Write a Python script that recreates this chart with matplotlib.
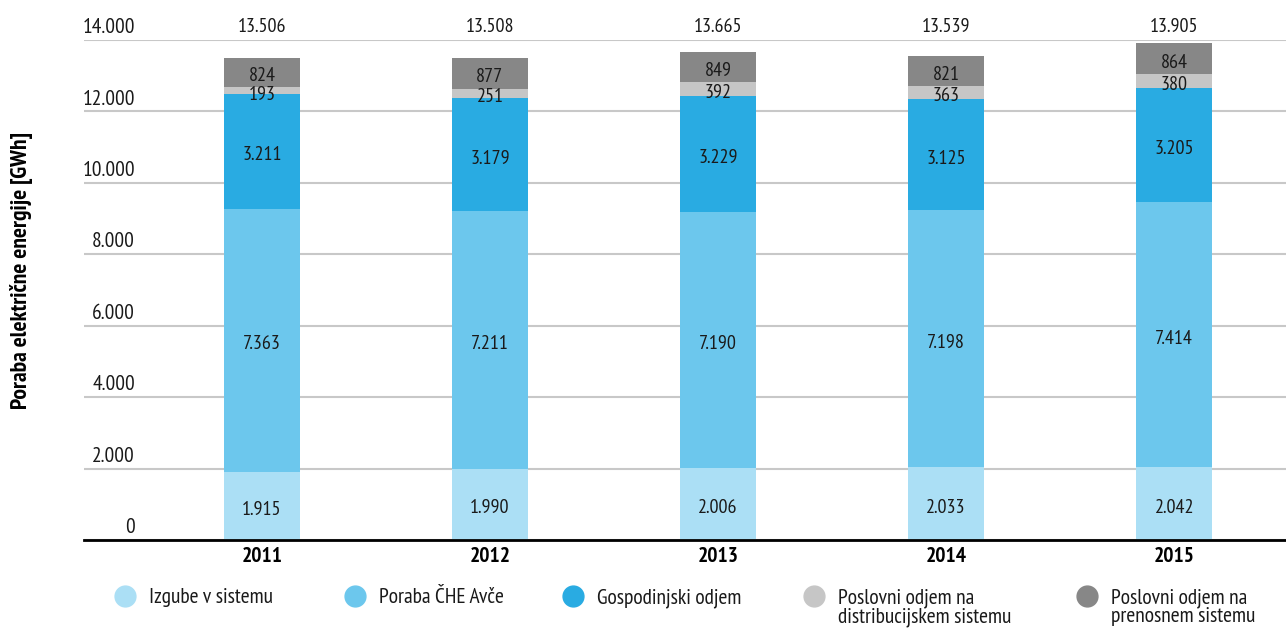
import matplotlib
matplotlib.use('Agg')
import matplotlib.pyplot as plt
import matplotlib.transforms as mtransforms
from matplotlib.lines import Line2D
import numpy as np

plt.rcParams['font.family'] = ['PT Sans Narrow', 'DejaVu Sans']

years = ['2011', '2012', '2013', '2014', '2015']
izgube = [1915, 1990, 2006, 2033, 2042]
poraba_che = [7363, 7211, 7190, 7198, 7414]
gospodinjski = [3211, 3179, 3229, 3125, 3205]
poslovni_dist = [193, 251, 392, 363, 380]
poslovni_pren = [824, 877, 849, 821, 864]
totals = [13506, 13508, 13665, 13539, 13905]

series = [izgube, poraba_che, gospodinjski, poslovni_dist, poslovni_pren]
names = ['Izgube v sistemu', 'Poraba ČHE Avče', 'Gospodinjski odjem',
         'Poslovni odjem na\ndistribucijskem sistemu', 'Poslovni odjem na\nprenosnem sistemu']
colors = ['#abdff5', '#6cc7ed', '#29abe2', '#c6c6c6', '#878787']
yticks = [0, 2000, 4000, 6000, 8000, 10000, 12000, 14000]


def fmt(v):
    # slovenian thousands separator
    return '{:,}'.format(v).replace(',', '.')


fig = plt.figure(figsize=(12.86, 6.28), dpi=100)
ax = fig.add_axes([84 / 1286, 88 / 628, 1202 / 1286, 500 / 628])

# segment labels sit a few pixels below the middle of their segment
lab_trans = ax.transData + mtransforms.ScaledTranslation(0, -4 / 100, fig.dpi_scale_trans)

x = np.arange(len(years))
bottom = np.zeros(len(years))
for vals, col in zip(series, colors):
    ax.bar(x, vals, 0.335, bottom=bottom, color=col, zorder=2)
    for xi, b, v in zip(x, bottom, vals):
        ax.text(xi, b + v / 2, fmt(v), ha='center', va='center', fontsize=14.5, color='#1a1a1a',
                zorder=3, transform=lab_trans)
    bottom += np.array(vals)

for xi, t in zip(x, totals):
    ax.text(xi, 14370, fmt(t), ha='center', va='center', fontsize=14.5, color='#1a1a1a', clip_on=False)

ax.set_xlim(-0.78, 4.49)
ax.set_ylim(0, 14000)
ax.set_yticks(yticks)
ax.set_yticklabels([])
ax.tick_params(axis='y', length=0)
for v in yticks:
    ax.axhline(v, color='#c8c8c8', lw=1.5, zorder=1)
    ax.text(0.0425, v + 190, fmt(v), transform=ax.get_yaxis_transform(), ha='right', va='baseline',
            fontsize=15.5, color='#1a1a1a')

ax.set_xticks(x)
ax.set_xticklabels(years, fontsize=15.5, fontweight='bold')
ax.tick_params(axis='x', length=0, pad=5)

for s in ['top', 'right', 'left']:
    ax.spines[s].set_visible(False)
ax.spines['bottom'].set_color('black')
ax.spines['bottom'].set_linewidth(2)
ax.spines['bottom'].set_zorder(4)

fig.text(22 / 1286, 1 - 270 / 628, 'Poraba električne energije [GWh]', rotation=90,
         ha='center', va='center', fontsize=17, fontweight='bold')

# legend, drawn by hand so two-line labels hang from the first line
marker_x = [125, 355, 573, 814, 1087]
for mx, name, col in zip(marker_x, names, colors):
    fig.add_artist(Line2D([mx / 1286], [1 - 596 / 628], marker='o', markersize=15, color=col,
                          linestyle='none', transform=fig.transFigure))
    for i, line in enumerate(name.split('\n')):
        fig.text((mx + 24) / 1286, 1 - (603 + 19 * i) / 628, line, ha='left', va='baseline',
                 fontsize=15.5, color='#1a1a1a')

fig.savefig('out.png', dpi=100)
